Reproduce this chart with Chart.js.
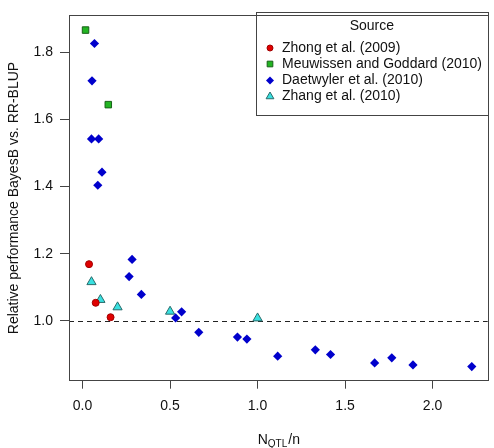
<!DOCTYPE html>
<html>
<head>
<meta charset="utf-8">
<script src="https://cdn.jsdelivr.net/npm/chart.js@4/dist/chart.umd.min.js"></script>
<style>
  html, body { margin: 0; padding: 0; background: #fff; }
  #wrap { width: 494px; height: 448px; position: relative; }
</style>
</head>
<body>
<div id="wrap"><canvas id="chart"></canvas></div>
<script>
// ── data ────────────────────────────────────────────────────────
const zhongX = [0.037, 0.075, 0.160];
const zhongY = [1.169, 1.054, 1.011];

const meuwX = [0.017, 0.147];
const meuwY = [1.866, 1.644];

const daetX = [0.068, 0.054, 0.051, 0.092, 0.111, 0.087, 0.283, 0.266, 0.336, 0.532, 0.566,
               0.664, 0.885, 0.939, 1.115, 1.330, 1.417, 1.669, 1.767, 1.888, 2.224];
const daetY = [1.826, 1.715, 1.542, 1.542, 1.443, 1.404, 1.183, 1.132, 1.079, 1.009, 1.027,
               0.966, 0.952, 0.946, 0.895, 0.914, 0.900, 0.875, 0.890, 0.869, 0.864];

const zhangX = [0.051, 0.102, 0.200, 0.500, 1.000];
const zhangY = [1.116, 1.063, 1.041, 1.028, 1.008];

const xTicks = [0.0, 0.5, 1.0, 1.5, 2.0];
const yTicks = [1.0, 1.2, 1.4, 1.6, 1.8];
const refLine = 1.0;

const seriesLabels = ['Zhong et al. (2009)', 'Meuwissen and Goddard (2010)',
                      'Daetwyler et al. (2010)', 'Zhang et al. (2010)'];

const FONT = "'Liberation Sans', Arial, sans-serif";
const AXIS = '#444';

const pts = (xs, ys) => xs.map((x, i) => ({ x, y: ys[i] }));

// box, dashed reference line, x title with subscript, legend
const decor = {
  id: 'decor',
  beforeDatasetsDraw(chart) {
    const { ctx, chartArea: a, scales } = chart;
    const y = scales.y.getPixelForValue(refLine);
    ctx.save();
    ctx.strokeStyle = '#222';
    ctx.lineWidth = 1;
    ctx.setLineDash([5, 4]);
    ctx.beginPath();
    ctx.moveTo(a.left, Math.round(y) + 0.5);
    ctx.lineTo(a.right, Math.round(y) + 0.5);
    ctx.stroke();
    ctx.restore();
  },
  afterDraw(chart) {
    const { ctx, chartArea: a } = chart;
    ctx.save();
    ctx.strokeStyle = AXIS;
    ctx.lineWidth = 1;
    ctx.strokeRect(Math.round(a.left) + 0.5, Math.round(a.top) + 0.5,
                   Math.round(a.right - a.left), Math.round(a.bottom - a.top));

    // x axis title N_QTL/n
    ctx.fillStyle = '#111';
    ctx.textBaseline = 'alphabetic';
    const big = '14px ' + FONT, small = '10px ' + FONT;
    ctx.font = big;  const wN = ctx.measureText('N').width;
    const wS = ctx.measureText('/n').width;
    ctx.font = small; const wQ = ctx.measureText('QTL').width;
    let x = (a.left + a.right) / 2 - (wN + wQ + wS) / 2;
    const base = 444;
    ctx.font = big;   ctx.fillText('N', x, base); x += wN;
    ctx.font = small; ctx.fillText('QTL', x, base + 3); x += wQ;
    ctx.font = big;   ctx.fillText('/n', x + 1, base);

    // legend
    const lx = 256, ly = 12, lw = a.right - 256, lh = 103;
    ctx.strokeStyle = AXIS;
    ctx.strokeRect(lx + 0.5, ly + 0.5, Math.round(lw), lh);
    ctx.font = '14px ' + FONT;
    ctx.textAlign = 'center';
    ctx.textBaseline = 'middle';
    ctx.fillStyle = '#111';
    ctx.fillText('Source', lx + lw / 2, 26);
    ctx.textAlign = 'left';
    const rows = [48, 64, 80.5, 96.5];
    const legR = [3, 4, 4, 4.5];
    chart.data.datasets.forEach((ds, i) => {
      ctx.fillStyle = ds.backgroundColor;
      ctx.strokeStyle = ds.borderColor;
      ctx.lineWidth = ds.borderWidth;
      Chart.helpers.drawPoint(ctx, {
        pointStyle: ds.pointStyle, radius: legR[i], rotation: 0, borderWidth: ds.borderWidth
      }, 270, rows[i]);
      ctx.fillStyle = '#111';
      ctx.fillText(ds.label, 282, rows[i]);
    });
    ctx.restore();
  }
};

new Chart(document.getElementById('chart'), {
  type: 'scatter',
  data: {
    datasets: [
      { label: seriesLabels[0], data: pts(zhongX, zhongY), pointStyle: 'circle', pointRadius: 3.5,
        backgroundColor: '#e00000', borderColor: '#a00000', borderWidth: 1 },
      { label: seriesLabels[1], data: pts(meuwX, meuwY), pointStyle: 'rect', pointRadius: 4.6,
        backgroundColor: '#22b522', borderColor: '#186018', borderWidth: 1 },
      { label: seriesLabels[2], data: pts(daetX, daetY), pointStyle: 'rectRot', pointRadius: 4.6,
        backgroundColor: '#0000cc', borderColor: '#0000cc', borderWidth: 0 },
      { label: seriesLabels[3], data: pts(zhangX, zhangY), pointStyle: 'triangle', pointRadius: 5.3,
        backgroundColor: '#38e0e0', borderColor: '#2a6a6a', borderWidth: 1 }
    ]
  },
  options: {
    responsive: true,
    maintainAspectRatio: false,
    animation: false,
    layout: { padding: { top: 11, right: 2, left: 0, bottom: 0 } },
    plugins: { legend: { display: false }, tooltip: { enabled: false } },
    scales: {
      x: {
        type: 'linear', min: -0.0775, max: 2.315,
        afterBuildTicks: s => { s.ticks = xTicks.map(v => ({ value: v })); },
        afterFit: s => { s.height = 67.3; },
        grid: { drawOnChartArea: false, drawTicks: true, tickLength: 8, color: AXIS },
        border: { display: false },
        ticks: { color: '#111', padding: 9, font: { family: FONT, size: 14 },
                 callback: v => Number(v).toFixed(1) }
      },
      y: {
        type: 'linear', min: 0.822, max: 1.9097,
        afterBuildTicks: s => { s.ticks = yTicks.map(v => ({ value: v })); },
        afterFit: s => { s.width = 69; },
        grid: { drawOnChartArea: false, drawTicks: true, tickLength: 9, color: AXIS },
        border: { display: false },
        title: { display: true, text: 'Relative performance BayesB vs. RR-BLUP', color: '#111',
                 padding: { top: 6, bottom: 0 }, font: { family: FONT, size: 14 } },
        ticks: { color: '#111', padding: 7, font: { family: FONT, size: 14 },
                 callback: v => Number(v).toFixed(1) }
      }
    }
  },
  plugins: [decor]
});
</script>
</body>
</html>
